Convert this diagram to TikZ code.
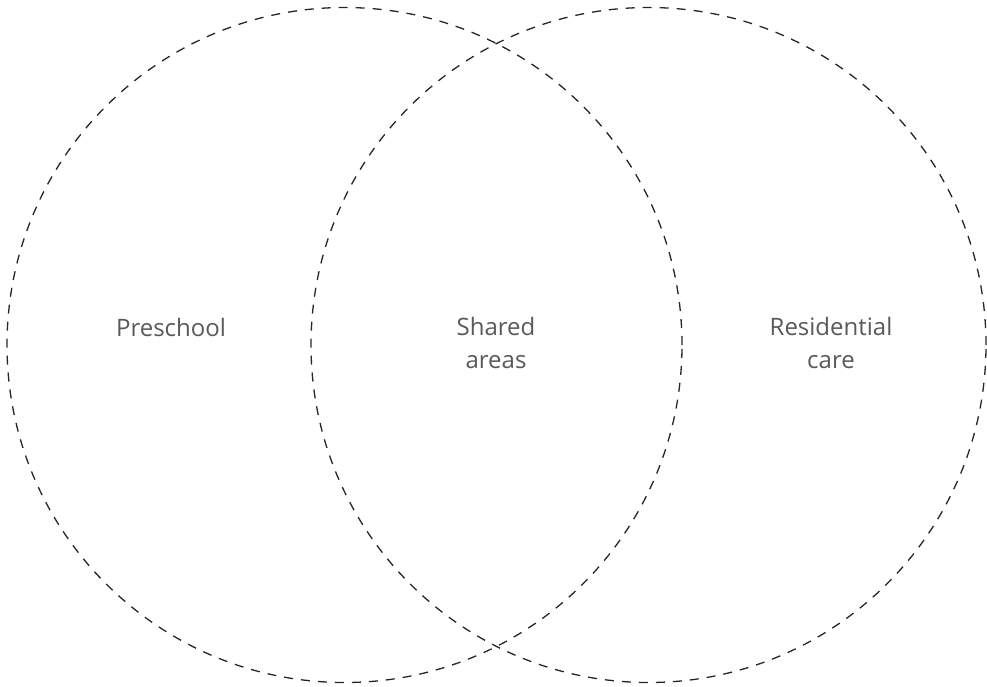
\documentclass[tikz,border=0pt]{standalone}
\usepackage{fontspec}
\setmainfont{Open Sans}
\usepackage{tikz}
\tikzstyle{every path}=[line width=1.3pt]
\tikzstyle{area} = [draw=black!85, circle, dash pattern=on 9pt off 8pt, minimum size=675pt, inner sep=0pt]
\tikzstyle{label} = [text=black!65, align=center, font=\fontsize{24}{33}\selectfont]

\begin{document}
\begin{tikzpicture}[x=1pt, y=-1pt]
            \useasboundingbox (0, 0) rectangle (987, 686);

            \node[area] (preschoolset) at (344.5, 345) {};
            \node[area] (careset) at (648.5, 345) {};

            \node[label] (preschool) at (171, 327) {Preschool};
            \node[label] (shared) at (496, 343) {Shared\\areas};
            \node[label] (care) at (831, 343) {Residential\\care};
        \end{tikzpicture}
\end{document}
